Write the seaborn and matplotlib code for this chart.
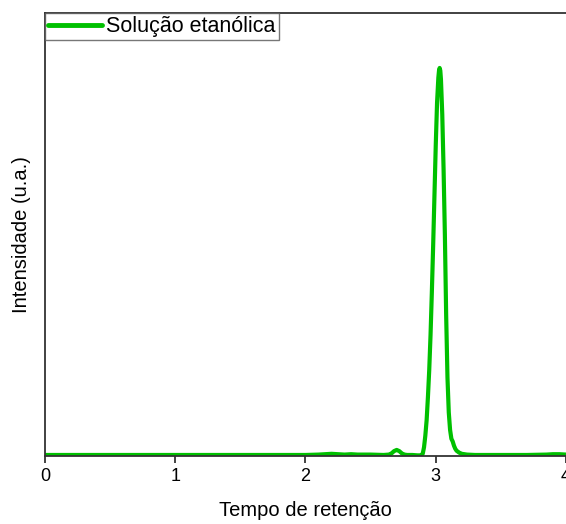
import matplotlib
matplotlib.use("Agg")
import matplotlib.pyplot as plt
import seaborn as sns
import pandas as pd

# Retention time (min) and relative intensity
tempo = [0.00, 0.50, 1.00, 1.50, 2.00, 2.10, 2.15, 2.20, 2.25, 2.30, 2.35, 2.40,
         2.50, 2.60, 2.64, 2.66, 2.68, 2.70, 2.72, 2.74, 2.76, 2.78, 2.82, 2.86,
         2.88, 2.89, 2.90, 2.91, 2.92, 2.93, 2.94, 2.95, 2.96, 2.97, 2.98, 2.99,
         3.00, 3.01, 3.02, 3.025, 3.03, 3.035, 3.04, 3.05, 3.06, 3.07, 3.08, 3.09,
         3.10, 3.11, 3.12, 3.13, 3.14, 3.15, 3.16, 3.18, 3.20, 3.24, 3.30, 3.50,
         3.70, 3.85, 3.90, 3.95, 4.00]
intensidade = [0.000, 0.000, 0.000, 0.000, 0.000, 0.001, 0.002, 0.003, 0.002, 0.001, 0.002, 0.001,
               0.001, 0.000, 0.001, 0.004, 0.010, 0.013, 0.010, 0.004, 0.001, 0.000, 0.000, -0.001,
               -0.001, 0.000, 0.003, 0.020, 0.050, 0.090, 0.150, 0.220, 0.310, 0.420, 0.540, 0.670,
               0.800, 0.910, 0.975, 0.993, 1.000, 0.993, 0.970, 0.880, 0.740, 0.570, 0.360, 0.200,
               0.110, 0.065, 0.042, 0.035, 0.024, 0.016, 0.011, 0.006, 0.003, 0.001, 0.000, 0.000,
               0.000, 0.001, 0.002, 0.002, 0.001]
serie = "Solução etanólica"

df = pd.DataFrame({"Tempo": tempo, "Intensidade": intensidade, "Amostra": serie})

sns.set_style("white")
plt.rcParams["font.family"] = ["Liberation Sans", "DejaVu Sans"]
plt.rcParams["text.color"] = "black"
plt.rcParams["axes.labelcolor"] = "black"

fig = plt.figure(figsize=(5.66, 5.24), dpi=100)
ax = fig.add_axes([0.0795, 0.1298, 0.9205, 0.8454])

sns.lineplot(data=df, x="Tempo", y="Intensidade", hue="Amostra",
             palette=["#00c000"], linewidth=3.0, ax=ax, estimator=None, sort=True)
ax.get_lines()[0].set_solid_capstyle("round")
ax.get_lines()[0].set_solid_joinstyle("round")

ax.set_xlim(0, 4)
ax.set_ylim(-0.0026, 1.142)
ax.set_xticks([0, 1, 2, 3, 4])
ax.set_xticklabels(["0", "1", "2", "3", "4"])
ax.set_yticks([])
ax.tick_params(axis="x", direction="out", length=5, width=1.2, labelsize=13,
               bottom=True, colors="#222222", labelcolor="black", pad=4)
for side in ["left", "top", "bottom"]:
    ax.spines[side].set_color("#333333")
    ax.spines[side].set_linewidth(1.3)
ax.spines["right"].set_visible(False)

ax.set_xlabel("Tempo de retenção", fontsize=14.5, labelpad=11)
ax.set_ylabel("Intensidade (u.a.)", fontsize=14.5, labelpad=10)

leg = ax.legend(loc="upper left", fontsize=15.5, frameon=True, fancybox=False,
                borderaxespad=0, handlelength=2.5, handletextpad=0.2,
                borderpad=0.15, title=None)
leg.get_frame().set_edgecolor("#555555")
leg.get_frame().set_linewidth(1.0)
for line in leg.get_lines():
    line.set_linewidth(3.5)

fig.savefig("out.png", dpi=100)
